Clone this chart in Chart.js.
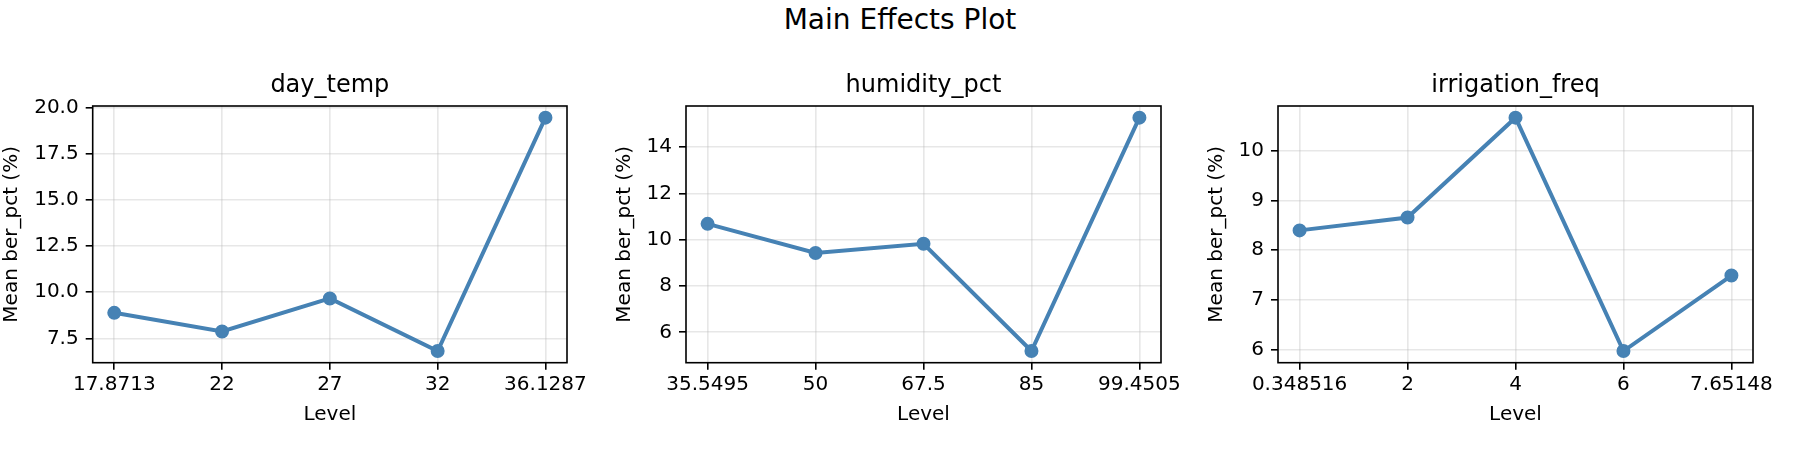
<!DOCTYPE html>
<html>
<head>
<meta charset="utf-8">
<title>Main Effects Plot</title>
<script src="https://cdn.jsdelivr.net/npm/chart.js@4.4.1/dist/chart.umd.min.js"></script>
<style>
  body { margin: 0; background: #fff; width: 1800px; height: 450px; position: relative; overflow: hidden; }
  #suptitle { position: absolute; left: 0; top: 6px; width: 1800px; text-align: center; font: 28px/28px 'DejaVu Sans'; color: #000; }
  canvas { position: absolute; top: 0; }
</style>
</head>
<body>
<div id="suptitle">Main Effects Plot</div>
<canvas id="day-temp-chart"></canvas>
<canvas id="humidity-chart"></canvas>
<canvas id="irrigation-chart"></canvas>
<script>
// factor levels (x tick labels) and mean ber_pct per level
const dayTempLevels = ['17.8713', '22', '27', '32', '36.1287'];
const dayTempMeans = [8.88, 7.87, 9.66, 6.81, 19.46];
const dayTempTicks = [7.5, 10.0, 12.5, 15.0, 17.5, 20.0];

const humidityLevels = ['35.5495', '50', '67.5', '85', '99.4505'];
const humidityMeans = [10.69, 9.43, 9.83, 5.19, 15.28];
const humidityTicks = [6, 8, 10, 12, 14];

const irrigationLevels = ['0.348516', '2', '4', '6', '7.65148'];
const irrigationMeans = [8.40, 8.66, 10.67, 5.97, 7.49];
const irrigationTicks = [6, 7, 8, 9, 10];

const PLOT_BOTTOM = 362.7;
const PLOT_W = 475;
const RIGHT_PAD = 45;
const LINE_COLOR = '#4682b4';
const GRID_COLOR = 'rgba(176, 176, 176, 0.3)';
const FONT = "'DejaVu Sans'";

Chart.defaults.font.family = FONT;
Chart.defaults.color = '#000';

// matplotlib draws a box round every axes
const framePlugin = {
  id: 'frame',
  afterDatasetsDraw(chart) {
    const { ctx, chartArea } = chart;
    ctx.save();
    ctx.strokeStyle = '#000';
    ctx.lineWidth = 1.6;
    ctx.strokeRect(chartArea.left, chartArea.top, chartArea.right - chartArea.left, chartArea.bottom - chartArea.top);
    ctx.restore();
  }
};

function makePanel(canvasId, canvasLeft, plotLeft, title, levels, means, yTicks, decimals) {
  const canvas = document.getElementById(canvasId);
  const yWidth = plotLeft - canvasLeft;
  canvas.width = yWidth + PLOT_W + RIGHT_PAD;
  canvas.height = 450;
  canvas.style.left = canvasLeft + 'px';

  // same 5% margins matplotlib puts round the data
  const lo = Math.min(...means);
  const hi = Math.max(...means);
  const yMargin = (hi - lo) * 0.05;
  const n = levels.length - 1;

  new Chart(canvas, {
    type: 'line',
    data: {
      datasets: [{
        data: means.map((v, i) => ({ x: i, y: v })),
        borderColor: LINE_COLOR,
        backgroundColor: LINE_COLOR,
        borderWidth: 4,
        pointRadius: 6,
        pointBorderWidth: 2,
        pointBackgroundColor: LINE_COLOR,
        pointBorderColor: LINE_COLOR,
        tension: 0
      }]
    },
    options: {
      responsive: false,
      animation: false,
      events: [],
      layout: { padding: { left: 0, right: RIGHT_PAD, top: 0, bottom: 0 } },
      plugins: {
        legend: { display: false },
        tooltip: { enabled: false },
        title: {
          display: true,
          fullSize: false,
          text: title,
          color: '#000',
          font: { family: FONT, size: 24, weight: 'normal', lineHeight: 1.2 },
          padding: { top: 71.3, bottom: 5.9 }
        }
      },
      scales: {
        x: {
          type: 'linear',
          min: -0.05 * n,
          max: n * 1.05,
          afterBuildTicks: scale => { scale.ticks = levels.map((l, i) => ({ value: i })); },
          afterFit: scale => { scale.height = 450 - PLOT_BOTTOM; },
          ticks: {
            autoSkip: false,
            maxRotation: 0,
            padding: 3,
            color: '#000',
            font: { family: FONT, size: 20 },
            callback: v => levels[v]
          },
          grid: { color: GRID_COLOR, lineWidth: 1.6, tickColor: '#000', tickWidth: 1.6, tickLength: 7 },
          border: { display: false },
          title: {
            display: true,
            text: 'Level',
            color: '#000',
            font: { family: FONT, size: 20, lineHeight: 1.2 },
            padding: { top: 0, bottom: 23.2 }
          }
        },
        y: {
          min: lo - yMargin,
          max: hi + yMargin,
          afterBuildTicks: scale => { scale.ticks = yTicks.map(v => ({ value: v })); },
          afterFit: scale => { scale.width = yWidth; },
          ticks: {
            padding: 7,
            color: '#000',
            font: { family: FONT, size: 20 },
            callback: v => v.toFixed(decimals)
          },
          grid: { color: GRID_COLOR, lineWidth: 1.6, tickColor: '#000', tickWidth: 1.6, tickLength: 7 },
          border: { display: false },
          title: {
            display: true,
            text: 'Mean ber_pct (%)',
            color: '#000',
            font: { family: FONT, size: 20, lineHeight: 1.2 },
            padding: { top: 0, bottom: 0 }
          }
        }
      }
    },
    plugins: [framePlugin]
  });
}

document.addEventListener('DOMContentLoaded', () => {
  makePanel('day-temp-chart', 0, 92.7, 'day_temp', dayTempLevels, dayTempMeans, dayTempTicks, 1);
  makePanel('humidity-chart', 613.3, 686.3, 'humidity_pct', humidityLevels, humidityMeans, humidityTicks, 0);
  makePanel('irrigation-chart', 1204.7, 1277.7, 'irrigation_freq', irrigationLevels, irrigationMeans, irrigationTicks, 0);
});
</script>
</body>
</html>
